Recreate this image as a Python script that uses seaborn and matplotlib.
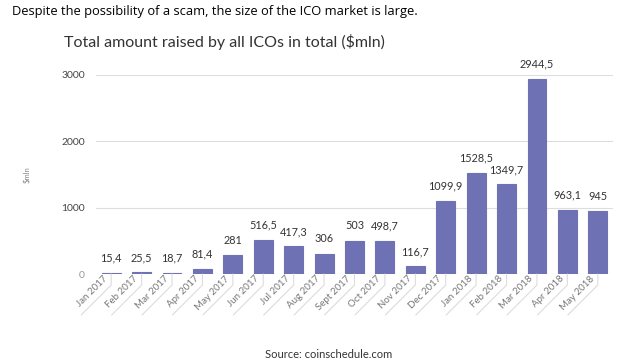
import matplotlib
matplotlib.use("Agg")
import matplotlib.pyplot as plt
import matplotlib.transforms as mtrans
from matplotlib.lines import Line2D
import seaborn as sns
import pandas as pd
import numpy as np

months = ["Jan 2017", "Feb 2017", "Mar 2017", "Apr 2017", "May 2017", "Jun 2017",
          "Jul 2017", "Aug 2017", "Sept 2017", "Oct 2017", "Nov 2017", "Dec 2017",
          "Jan 2018", "Feb 2018", "Mar 2018", "Apr 2018", "May 2018"]
values = [15.4, 25.5, 18.7, 81.4, 281, 516.5, 417.3, 306, 503, 498.7, 116.7,
          1099.9, 1528.5, 1349.7, 2944.5, 963.1, 945]
value_labels = ["15,4", "25,5", "18,7", "81,4", "281", "516,5", "417,3", "306", "503",
                "498,7", "116,7", "1099,9", "1528,5", "1349,7", "2944,5", "963,1", "945"]
yticks = [0, 1000, 2000, 3000]

sns.set_theme(style="white")
plt.rcParams['font.family'] = ['Lato', 'DejaVu Sans']

df = pd.DataFrame({"month": months, "value": values})

fig = plt.figure(figsize=(6.42, 3.62), dpi=100)
ax = fig.add_axes([96/642, 1-274/362, (613-96)/642, (274-75)/362])
ax.set_axisbelow(True)

sns.barplot(data=df, x="month", y="value", color="#6E71B4", saturation=1,
            width=0.62, ax=ax, zorder=3, edgecolor="#6E71B4", linewidth=0.8)

ax.set_ylim(0, 3000)
ax.set_xlim(-0.5, len(months)-0.5)
ax.set_yticks(yticks)
ax.set_yticklabels([str(t) for t in yticks], fontsize=7.5, color="#444444")
ax.get_yticklabels()[0].set_color("#999999")
ax.yaxis.grid(True, color="#dddddd", linewidth=0.8, zorder=0)
ax.tick_params(axis="y", length=0, pad=8)
for s in ax.spines.values():
    s.set_visible(False)

ax.set_xticks(range(len(months)))
ax.set_xticklabels(months, rotation=45, ha="right", va="bottom",
                   rotation_mode="anchor", fontsize=7, color="#777777")
ax.tick_params(axis="x", length=0, pad=4.6)
shift = mtrans.ScaledTranslation(-2/100, 0, fig.dpi_scale_trans)
for lab in ax.get_xticklabels():
    lab.set_transform(lab.get_transform() + shift)

# leader lines under the rotated labels
for i in range(len(months)):
    x0, y0 = ax.transData.transform((i, 0))
    xs = [x0, x0, x0 - 30]
    ys = [y0, y0 - 11, y0 - 41]
    fig.add_artist(Line2D(xs, ys, transform=mtrans.IdentityTransform(),
                          color="#dcdcdc", linewidth=0.8))

ax.set_xlabel("")
ax.set_ylabel("$mln", fontsize=5.5, color="#888888", labelpad=22)

for i, (v, lab) in enumerate(zip(values, value_labels)):
    ax.text(i, v + 140, lab, ha="center", va="bottom", fontsize=7.8,
            color="#333333", clip_on=False)

fig.text(12/642, 1-12/362, "Despite the possibility of a scam, the size of the ICO market is large.",
         fontsize=9.3, color="#000000", va="center", ha="left",
         family=["Open Sans", "DejaVu Sans"])
fig.text(64/642, 1-42/362, "Total amount raised by all ICOs in total ($mln)",
         fontsize=11.5, color="#333333", va="center", ha="left")
fig.text(329/642, 1-354/362, "Source: coinschedule.com",
         fontsize=8, color="#333333", va="center", ha="center")

fig.savefig("out.png", dpi=100)
